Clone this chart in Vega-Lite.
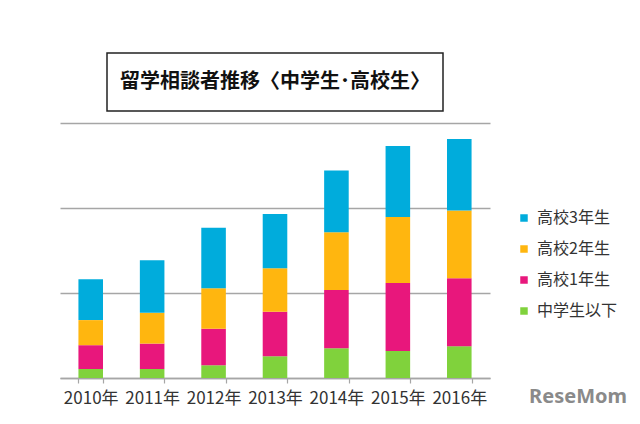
{
  "$schema": "https://vega.github.io/schema/vega-lite/v6.json",
  "padding": {"top": 52, "left": 60, "right": 5, "bottom": 5},
  "background": "white",
  "config": {
    "view": {"stroke": null},
    "font": "Noto Sans CJK JP"
  },
  "title": {
    "text": "ReseMom",
    "orient": "bottom",
    "anchor": "end",
    "font": "Noto Sans",
    "fontSize": 20,
    "fontWeight": "bold",
    "color": "#8a8a8a",
    "offset": -19,
    "dx": 9
  },
  "vconcat": [
    {
      "width": 336,
      "height": 58,
      "view": {"stroke": "#222222", "strokeWidth": 1.5},
      "data": {"values": [{"t": "留学相談者推移〈中学生･高校生〉"}]},
      "mark": {"type": "text", "fontSize": 20, "fontWeight": "bold", "color": "#111111", "font": "Noto Sans CJK JP"},
      "encoding": {"text": {"field": "t", "type": "nominal"}}
    },
    {
      "width": 430,
      "height": 255,
      "data": {
        "values": [
          {"year": "2010年", "grade": "中学生以下", "v": 10.6},
          {"year": "2010年", "grade": "高校1年生", "v": 28.0},
          {"year": "2010年", "grade": "高校2年生", "v": 29.5},
          {"year": "2010年", "grade": "高校3年生", "v": 48.0},
          {"year": "2011年", "grade": "中学生以下", "v": 10.6},
          {"year": "2011年", "grade": "高校1年生", "v": 29.9},
          {"year": "2011年", "grade": "高校2年生", "v": 36.2},
          {"year": "2011年", "grade": "高校3年生", "v": 61.8},
          {"year": "2012年", "grade": "中学生以下", "v": 15.0},
          {"year": "2012年", "grade": "高校1年生", "v": 42.9},
          {"year": "2012年", "grade": "高校2年生", "v": 47.6},
          {"year": "2012年", "grade": "高校3年生", "v": 71.3},
          {"year": "2013年", "grade": "中学生以下", "v": 25.6},
          {"year": "2013年", "grade": "高校1年生", "v": 52.4},
          {"year": "2013年", "grade": "高校2年生", "v": 51.2},
          {"year": "2013年", "grade": "高校3年生", "v": 63.8},
          {"year": "2014年", "grade": "中学生以下", "v": 35.0},
          {"year": "2014年", "grade": "高校1年生", "v": 68.5},
          {"year": "2014年", "grade": "高校2年生", "v": 68.1},
          {"year": "2014年", "grade": "高校3年生", "v": 72.4},
          {"year": "2015年", "grade": "中学生以下", "v": 31.9},
          {"year": "2015年", "grade": "高校1年生", "v": 79.9},
          {"year": "2015年", "grade": "高校2年生", "v": 77.6},
          {"year": "2015年", "grade": "高校3年生", "v": 83.5},
          {"year": "2016年", "grade": "中学生以下", "v": 37.4},
          {"year": "2016年", "grade": "高校1年生", "v": 79.9},
          {"year": "2016年", "grade": "高校2年生", "v": 79.9},
          {"year": "2016年", "grade": "高校3年生", "v": 83.9}
        ]
      },
      "mark": {"type": "bar"},
      "encoding": {
        "x": {
          "field": "year",
          "type": "nominal",
          "title": null,
          "scale": {"paddingInner": 0.6, "paddingOuter": 0.3},
          "axis": {
            "labelAngle": 0,
            "labelFontSize": 17,
            "labelColor": "#333333",
            "labelPadding": 7,
            "domainColor": "#a6a6a6",
            "domainWidth": 1.5,
            "tickColor": "#a6a6a6",
            "tickWidth": 1.2,
            "tickSize": 5,
            "tickBand": "extent",
            "grid": false
          }
        },
        "y": {
          "field": "v",
          "type": "quantitative",
          "stack": "zero",
          "title": null,
          "scale": {"domain": [0, 300], "nice": false},
          "axis": {
            "values": [0, 100, 200, 300],
            "labels": false,
            "ticks": false,
            "domain": false,
            "grid": true,
            "gridColor": "#a6a6a6",
            "gridWidth": 1.5
          }
        },
        "color": {
          "field": "grade",
          "type": "nominal",
          "scale": {
            "domain": ["高校3年生", "高校2年生", "高校1年生", "中学生以下"],
            "range": ["#00acdc", "#ffb60f", "#e8177c", "#80d23c"]
          },
          "legend": {
            "title": null,
            "orient": "none",
            "legendX": 456,
            "legendY": 157,
            "symbolType": "square",
            "symbolSize": 56,
            "symbolStrokeWidth": 0,
            "labelFontSize": 16,
            "labelColor": "#333333",
            "labelOffset": 5,
            "rowPadding": 15
          }
        },
        "order": {"field": "grade", "sort": "ascending"}
      }
    }
  ],
  "spacing": 12,
  "center": true,
  "bounds": "flush"
}
